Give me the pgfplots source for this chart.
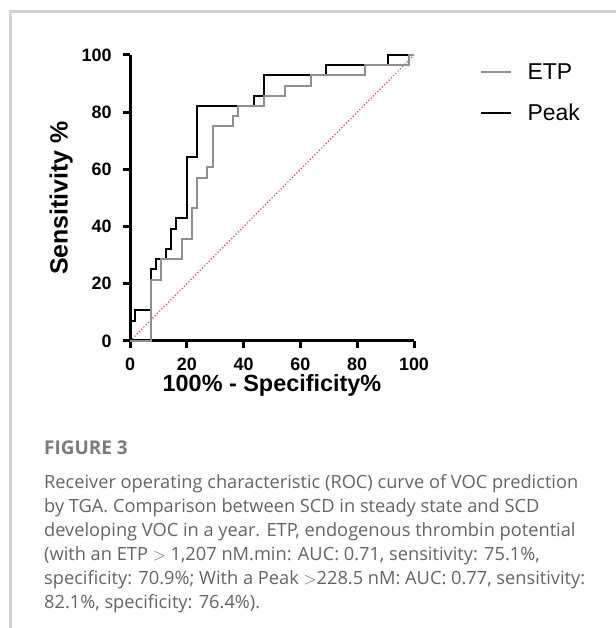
\documentclass[border=0pt]{standalone}
\usepackage{fontspec}
\setmainfont{Liberation Sans}
\newfontfamily\capfont{Open Sans}
\usepackage{pgfplots}
\pgfplotsset{compat=1.18}
\definecolor{etpgray}{HTML}{8F8F8F}
\definecolor{diagred}{HTML}{E8414F}
\definecolor{capgray}{HTML}{646464}
\definecolor{framegray}{HTML}{D2D2D2}

\begin{document}
\begin{tikzpicture}[x=1bp,y=1bp]
\path[use as bounding box] (0,0) rectangle (616,628);
\draw[framegray, line width=3bp] (10,0) -- (10,616) -- (616,616);
\begin{axis}[
    at={(130bp,287bp)}, anchor=south west,
    width=284bp, height=286bp, scale only axis,
    xmin=0, xmax=100, ymin=0, ymax=100,
    axis x line=bottom, axis y line=left,
    axis line style={-, line width=3bp},
    xtick={0,20,...,100}, ytick={0,20,...,100},
    tick align=outside, major tick length=7bp,
    tick style={black, line width=3bp},
    /pgf/number format/assume math mode=true,
    tick label style={font=\fontsize{18}{18}\selectfont\bfseries},
    xticklabel style={yshift=-6bp},
    yticklabel style={xshift=-8bp},
    xlabel={100\% - Specificity\%},
    ylabel={Sensitivity \%},
    label style={font=\fontsize{23.5}{23.5}\selectfont\bfseries},
    xlabel style={at={(axis description cs:0.5,-0.155)}, anchor=center},
    ylabel style={at={(axis description cs:-0.242,0.5)}, anchor=center, font=\fontsize{25}{25}\selectfont\bfseries},
    clip=false,
    reverse legend,
    legend style={draw=none, fill=none, at={(axis description cs:1.232,0.978)},
        anchor=north west, font=\fontsize{23}{23}\selectfont, row sep=19bp,
        inner sep=0pt, /tikz/every odd column/.append style={column sep=14bp}},
    legend image code/.code={\draw[#1, line width=1.5bp] (0bp,0bp) -- (30bp,0bp);},
    legend cell align=left,
]
\addplot[diagred, dotted, line width=1.2bp, forget plot] coordinates {(0,0) (100,100)};
\addplot[black, line width=2bp] coordinates {
    (0,0) (0,7.14) (1.82,7.14) (1.82,10.71) (7.27,10.71) (7.27,25) (9.09,25)
    (9.09,28.57) (12.73,28.57) (12.73,32.14) (14.55,32.14) (14.55,39.29)
    (16.36,39.29) (16.36,42.86) (20,42.86) (20,64.29) (23.64,64.29)
    (23.64,82.14) (43.64,82.14) (43.64,85.71) (47.27,85.71) (47.27,92.86)
    (69.09,92.86) (69.09,96.43) (90.91,96.43) (90.91,100) (100,100)
};
\addlegendentry{Peak}
\addplot[etpgray, line width=2bp] coordinates {
    (0,0) (7.27,0) (7.27,21.43) (10.91,21.43) (10.91,28.57) (18.18,28.57)
    (18.18,35.71) (21.82,35.71) (21.82,46.43) (23.64,46.43) (23.64,57.14)
    (27.27,57.14) (27.27,60.71) (29.09,60.71) (29.09,75) (36.36,75)
    (36.36,78.57) (38.18,78.57) (38.18,82.14) (47.27,82.14) (47.27,85.71)
    (54.55,85.71) (54.55,89.29) (63.64,89.29) (63.64,92.86) (82.7,92.86)
    (82.7,96.43) (98.18,96.43) (98.18,100) (100,100)
};
\addlegendentry{ETP}
\end{axis}
\begin{scope}[every node/.style={anchor=base west, inner sep=0pt, text=capgray}]
\node[font=\capfont\bfseries\fontsize{19}{19}\selectfont, text=capgray!85] at (44,173) {FIGURE 3};
\node[font=\capfont\fontsize{18.3}{18.3}\selectfont] at (44,139.5) {Receiver operating characteristic (ROC) curve of VOC prediction};
\node[font=\capfont\fontsize{18.3}{18.3}\selectfont] at (44,115.5) {by TGA. Comparison between SCD in steady state and SCD};
\node[font=\capfont\fontsize{18.3}{18.3}\selectfont] at (44,91.5) {developing VOC in a year. ETP, endogenous thrombin potential};
\node[font=\capfont\fontsize{18.3}{18.3}\selectfont] at (44,67.5) {(with an ETP {$>$} 1,207 nM.min: AUC: 0.71, sensitivity: 75.1\%,};
\node[font=\capfont\fontsize{18.3}{18.3}\selectfont] at (44,43.5) {specificity: 70.9\%; With a Peak {$>$}228.5 nM: AUC: 0.77, sensitivity:};
\node[font=\capfont\fontsize{18.3}{18.3}\selectfont] at (44,19.5) {82.1\%, specificity: 76.4\%).};
\end{scope}
\end{tikzpicture}
\end{document}
